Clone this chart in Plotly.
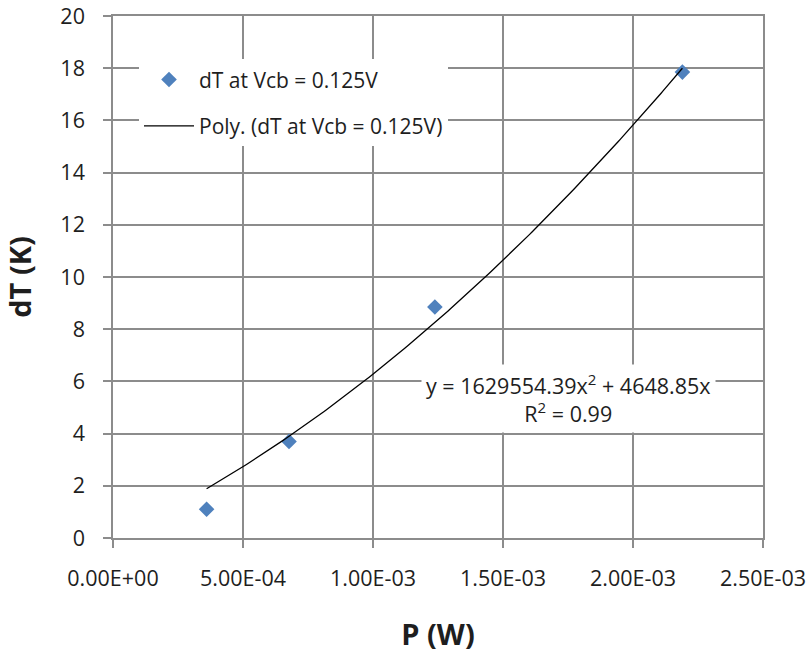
import numpy as np
import plotly.graph_objects as go

# Measured temperature rise versus dissipated power
power_w = [3.6e-4, 6.77e-4, 1.238e-3, 2.19e-3]
dT_k = [1.1, 3.7, 8.85, 17.85]

# Second-order polynomial trend (through origin), as reported by the fit
coef_a = 1629554.39
coef_b = 4648.85
r_squared = 0.99

x_tickvals = [0, 5e-4, 1e-3, 1.5e-3, 2e-3, 2.5e-3]
x_ticktext = ["0.00E+00", "5.00E-04", "1.00E-03", "1.50E-03", "2.00E-03", "2.50E-03"]
y_tickvals = list(range(0, 21, 2))

series_name = "dT at Vcb = 0.125V"
trend_name = "Poly. (dT at Vcb = 0.125V)"

xs = np.linspace(min(power_w), max(power_w), 200)
ys = coef_a * xs ** 2 + coef_b * xs

FONT = "Open Sans, sans-serif"
GRID = "#8c8c8c"
TEXT = "#1e1e1e"

fig = go.Figure()
fig.add_trace(go.Scatter(
    x=power_w, y=dT_k, mode="markers", name=series_name,
    marker=dict(symbol="diamond", size=12, color="#4F81BD"),
    legendgroup="a",
))
fig.add_trace(go.Scatter(
    x=xs, y=ys, mode="lines", name=trend_name,
    line=dict(color="black", width=1.3),
    legendgroup="b",
))

fig.add_annotation(
    x=1.75e-3, y=5.35, xref="x", yref="y",
    text=f"y = {coef_a:.2f}x<sup>2</sup> + {coef_b:.2f}x<br>R<sup>2</sup> = {r_squared:.2f}",
    showarrow=False, bgcolor="white", borderpad=4,
    font=dict(family=FONT, size=21.5, color=TEXT), align="center",
)

axis_common = dict(
    showgrid=True, gridcolor=GRID, gridwidth=1.5,
    showline=True, linecolor=GRID, linewidth=1.5, mirror=True,
    ticks="outside", ticklen=8, tickcolor=GRID, tickwidth=1.5,
    zeroline=False, automargin=False,
    tickfont=dict(family=FONT, size=21.5, color=TEXT),
)

fig.update_xaxes(
    range=[0, 2.5e-3], tickvals=x_tickvals, ticktext=x_ticktext,
    title=dict(text="<b>P (W)</b>", font=dict(family=FONT, size=29, color=TEXT), standoff=34),
    ticklabelstandoff=12,
    **axis_common,
)
fig.update_yaxes(
    range=[0, 20], tickvals=y_tickvals,
    title=dict(text="<b>dT (K)</b>", font=dict(family=FONT, size=29, color=TEXT), standoff=20),
    ticklabelstandoff=14,
    **axis_common,
)

fig.update_layout(
    width=809, height=656,
    margin=dict(l=113, r=46, t=16, b=118),
    paper_bgcolor="white", plot_bgcolor="white",
    showlegend=True,
    legend=dict(
        x=0.04, y=0.917, xanchor="left", yanchor="top",
        bgcolor="white", font=dict(family=FONT, size=21, color=TEXT),
        tracegroupgap=16, itemwidth=50,
    ),
)

fig.write_html("out.html")
